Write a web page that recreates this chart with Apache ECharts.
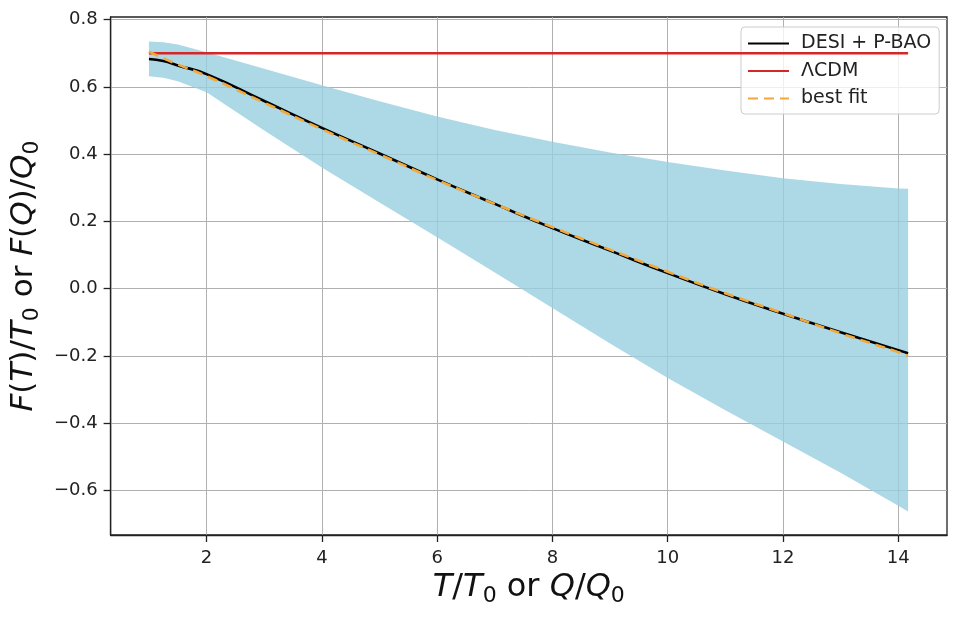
<!DOCTYPE html>
<html>
<head>
<meta charset="utf-8">
<script src="https://cdn.jsdelivr.net/npm/echarts@6/dist/echarts.min.js"></script>
<style>html,body{margin:0;padding:0;background:#fff}#c{width:960px;height:619px}</style>
</head>
<body>
<div id="c"></div>
<script>
// x grid of the curves (T/T0 or Q/Q0)
const xs = [1, 1.25, 1.5, 2, 3, 4, 5, 6, 7, 8, 9, 10, 11, 12, 13, 14, 14.17];
// DESI + P-BAO reconstruction
const desi = [0.683, 0.677, 0.664, 0.638, 0.558, 0.478, 0.402, 0.325, 0.252, 0.180, 0.113, 0.046, -0.017, -0.075, -0.130, -0.183, -0.192];
// best fit
const bestFit = [0.705, 0.685, 0.667, 0.632, 0.553, 0.474, 0.399, 0.323, 0.252, 0.183, 0.116, 0.050, -0.014, -0.073, -0.133, -0.189, -0.200];
// confidence band
const bandUpper = [0.735, 0.733, 0.726, 0.703, 0.654, 0.605, 0.557, 0.512, 0.472, 0.437, 0.405, 0.377, 0.351, 0.328, 0.311, 0.298, 0.297];
const bandLower = [0.632, 0.627, 0.617, 0.584, 0.470, 0.360, 0.256, 0.153, 0.048, -0.058, -0.163, -0.266, -0.362, -0.455, -0.548, -0.646, -0.663];
// LCDM constant
const lcdmX = [1, 14.17];
const lcdmY = [0.7, 0.7];
// ticks
const xTicks = [2, 4, 6, 8, 10, 12, 14];
const yTicks = [-0.6, -0.4, -0.2, 0.0, 0.2, 0.4, 0.6, 0.8];

const pairs = (a, b) => a.map((v, i) => [v, b[i]]);
const FONT = 'DejaVu Sans';

const chart = echarts.init(document.getElementById('c'), null, {renderer: 'canvas'});
const fmtY = v => (v < -1e-9 ? '\u2212' : '') + Math.abs(v).toFixed(1);

const axisLineStyle = {color: '#222', width: 1.3};
const mkRich = (fs) => ({
  i: {fontFamily: FONT, fontStyle: 'italic', fontSize: fs, color: '#111', verticalAlign: 'top', lineHeight: fs},
  n: {fontFamily: FONT, fontSize: fs, color: '#111', verticalAlign: 'top', lineHeight: fs},
  s: {fontFamily: FONT, fontSize: Math.round(fs * 0.7), color: '#111', verticalAlign: 'top', padding: [Math.round(fs * 0.42), 0, 0, 0], lineHeight: Math.round(fs * 0.7)}
});
const option = {
  animation: false,
  backgroundColor: '#fff',
  grid: {left: 110, right: 13, top: 17, bottom: 84, containLabel: false, show: true,
    borderColor: '#222', borderWidth: 1.3, backgroundColor: 'transparent'},
  xAxis: {
    type: 'value', min: 0.335, max: 14.845,
    axisLine: {show: true, onZero: false, lineStyle: axisLineStyle},
    axisTick: {show: true, length: 7, inside: false, customValues: xTicks, lineStyle: {color: '#222', width: 1.3}},
    axisLabel: {customValues: xTicks, margin: 14, color: '#222', fontSize: 18, fontFamily: FONT, formatter: v => String(Math.round(v))},
    splitLine: {show: true, lineStyle: {color: '#b0b0b0', width: 1}},
    name: '{i|T}{n|/}{i|T}{s|0}{n| or }{i|Q}{n|/}{i|Q}{s|0}',
    nameLocation: 'middle', nameGap: 21,
    nameTextStyle: {rich: mkRich(32)}
  },
  yAxis: {
    type: 'value', min: -0.733, max: 0.808,
    axisLine: {show: true, onZero: false, lineStyle: axisLineStyle},
    axisTick: {show: true, length: 7, inside: false, customValues: yTicks, lineStyle: {color: '#222', width: 1.3}},
    axisLabel: {customValues: yTicks, margin: 13, color: '#222', fontSize: 18, fontFamily: FONT, formatter: fmtY},
    splitLine: {show: true, lineStyle: {color: '#b0b0b0', width: 1}},
    name: '{i|F}{n|(}{i|T}{n|)/}{i|T}{s|0}{n| or }{i|F}{n|(}{i|Q}{n|)/}{i|Q}{s|0}',
    nameLocation: 'middle', nameRotate: 90, nameGap: 60,
    nameTextStyle: {rich: mkRich(31)}
  },
  legend: {
    data: ['DESI + P-BAO', '\u039BCDM', 'best fit'],
    orient: 'vertical', left: 741, top: 27,
    padding: [7, 8, 6, 6], itemGap: 8.5, itemWidth: 41, itemHeight: 16,
    backgroundColor: 'rgba(255,255,255,0.8)', borderColor: '#cccccc', borderWidth: 1, borderRadius: 4,
    itemStyle: {opacity: 0},
    textStyle: {fontFamily: FONT, fontSize: 19, color: '#222', padding: [0, 0, 0, 7]},
    selectedMode: false
  },
  series: [
    {
      name: 'band', type: 'custom', silent: true, z: 1,
      data: [[0]],
      renderItem: function (params, api) {
        const pts = [];
        for (let i = 0; i < xs.length; i++) pts.push(api.coord([xs[i], bandUpper[i]]));
        for (let i = xs.length - 1; i >= 0; i--) pts.push(api.coord([xs[i], bandLower[i]]));
        return {type: 'polygon', shape: {points: pts}, style: {fill: 'rgba(152,206,224,0.8)'}};
      }
    },
    {name: 'DESI + P-BAO', type: 'line', data: pairs(xs, desi), symbol: 'none', smooth: true,
      lineStyle: {color: '#000', width: 2.6}, itemStyle: {color: '#000'}, z: 3},
    {name: '\u039BCDM', type: 'line', data: pairs(lcdmX, lcdmY), symbol: 'none',
      lineStyle: {color: '#d62728', width: 2.6}, itemStyle: {color: '#d62728'}, z: 4},
    {name: 'best fit', type: 'line', data: pairs(xs, bestFit), symbol: 'none', smooth: true,
      lineStyle: {color: '#f2a93b', width: 2.6, type: [10, 6]}, itemStyle: {color: '#f2a93b'}, z: 5}
  ]
};
chart.setOption(option);
</script>
</body>
</html>
